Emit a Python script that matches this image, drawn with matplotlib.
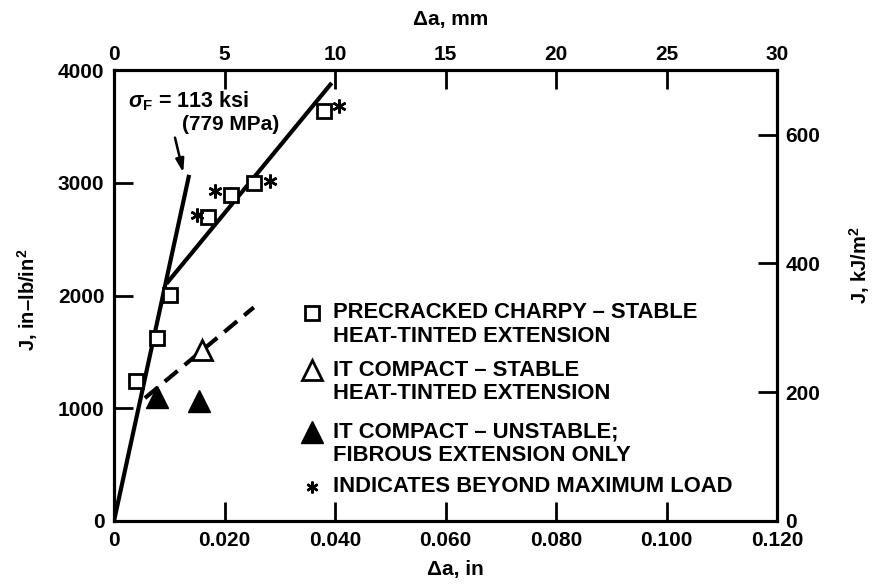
import matplotlib
matplotlib.use("Agg")
import matplotlib.pyplot as plt
from matplotlib.lines import Line2D
from matplotlib.transforms import ScaledTranslation

plt.rcParams.update({
    "font.family": ["Liberation Sans", "DejaVu Sans"],
    "font.weight": "bold",
    "mathtext.fontset": "custom",
    "mathtext.rm": "Liberation Sans:bold",
    "mathtext.it": "Liberation Sans:italic:bold",
    "mathtext.bf": "Liberation Sans:bold",
    "mathtext.sf": "Liberation Sans:bold",
})

# ---- data -------------------------------------------------------------
# Precracked Charpy, stable heat-tinted extension
charpy_da = [0.0039, 0.0077, 0.0101, 0.0170, 0.0212, 0.0253, 0.0380]
charpy_j = [1245, 1620, 2005, 2695, 2890, 2995, 3640]
charpy_beyond_max_load = [False, False, False, True, True, True, True]

# 1T compact, stable heat-tinted extension
ct_stable_da = [0.0159]
ct_stable_j = [1517]

# 1T compact, unstable; fibrous extension only
ct_unstable_da = [0.0077, 0.0154]
ct_unstable_j = [1100, 1060]

# blunting line (sigma_F = 113 ksi) and fitted resistance curves
blunt_da = [0.0, 0.0136]
blunt_j = [0, 3070]
charpy_fit_da = [0.0095, 0.0394]
charpy_fit_j = [2105, 3885]
ct_fit_da = [0.0056, 0.0253]
ct_fit_j = [1090, 1895]

x_ticks_in = [0, 0.02, 0.04, 0.06, 0.08, 0.10, 0.12]
x_tick_labels_in = ["0", "0.020", "0.040", "0.060", "0.080", "0.100", "0.120"]
x_ticks_mm = [0, 5, 10, 15, 20, 25, 30]
y_ticks_j = [0, 1000, 2000, 3000, 4000]
y_ticks_kj = [0, 200, 400, 600]

legend_labels = [
    "PRECRACKED CHARPY – STABLE\nHEAT-TINTED EXTENSION",
    "IT COMPACT – STABLE\nHEAT-TINTED EXTENSION",
    "IT COMPACT – UNSTABLE;\nFIBROUS EXTENSION ONLY",
    "INDICATES BEYOND MAXIMUM LOAD",
]

IN_LB_PER_IN2_TO_KJ_PER_M2 = 0.175127

# ---- figure -----------------------------------------------------------
W, H = 886, 584
fig = plt.figure(figsize=(W / 100, H / 100), dpi=100)
fig.patch.set_facecolor("white")
ax = fig.add_axes([114 / W, (H - 521) / H, 663 / W, 451 / H])


def fpx(x, y):
    """pixel position (from top-left) -> figure fraction"""
    return x / W, 1 - y / H


spine_w = 2.2
tick_kw = dict(direction="in", length=14, width=2, labelsize=15, colors="black")

ax.set_xlim(0, 0.12)
ax.set_ylim(0, 4000)
ax.set_xticks(x_ticks_in)
ax.set_xticklabels(x_tick_labels_in)
ax.set_yticks(y_ticks_j)
ax.set_yticklabels([str(v) for v in y_ticks_j])
ax.tick_params(axis="both", pad=7, **tick_kw)
for s in ax.spines.values():
    s.set_linewidth(spine_w)

axt = ax.twiny()
axt.set_xlim(0, 30)
axt.set_xticks(x_ticks_mm)
axt.tick_params(axis="x", pad=4, **tick_kw)

axr = ax.twinx()
axr.set_ylim(0, 4000 * IN_LB_PER_IN2_TO_KJ_PER_M2)
axr.set_yticks(y_ticks_kj)
axr.tick_params(axis="y", pad=6, **tick_kw)
for a in (axt, axr):
    for s in a.spines.values():
        s.set_linewidth(spine_w)

# lines
ax.plot(blunt_da, blunt_j, color="black", lw=3.0, solid_capstyle="butt", zorder=3)
ax.plot(charpy_fit_da, charpy_fit_j, color="black", lw=3.0, solid_capstyle="butt", zorder=3)
ax.plot(ct_fit_da, ct_fit_j, color="black", lw=3.0, dashes=(4, 2.2), zorder=3)

# markers
sq_kw = dict(marker="s", ms=9.5, mfc="white", mec="black", mew=2.0, ls="none", zorder=4)
ax.plot(charpy_da, charpy_j, **sq_kw)
tri_open_kw = dict(marker="^", ms=15, mfc="white", mec="black", mew=2.0, ls="none", zorder=4)
ax.plot(ct_stable_da, ct_stable_j, **tri_open_kw)
tri_full_kw = dict(marker="^", ms=16, mfc="black", mec="black", mew=1.0, ls="none", zorder=4)
ax.plot(ct_unstable_da, ct_unstable_j, **tri_full_kw)

# asterisks beside points beyond maximum load
star_kw = dict(marker=(6, 2, 0), ms=10, mew=1.8, color="black", ls="none", zorder=5)
star_offsets_px = [(-11, 2), (-16, 4), (16, 2), (15, 5)]
flagged = [(x, j) for x, j, f in zip(charpy_da, charpy_j, charpy_beyond_max_load) if f]
for (x, j), (dx, dy) in zip(flagged, star_offsets_px):
    tr = ax.transData + ScaledTranslation(dx / fig.dpi, dy / fig.dpi, fig.dpi_scale_trans)
    ax.plot([x], [j], transform=tr, clip_on=False, **star_kw)

# flow-stress annotation with arrow to the blunting line
ax.text(0.0025, 3725, r"$\sigma_{\mathrm{F}}$ = 113 ksi", fontsize=15.5,
        fontweight="bold", ha="left", va="center")
ax.text(0.0123, 3515, "(779 MPa)", fontsize=15, fontweight="bold",
        ha="left", va="center")
ax.annotate("", xy=(0.01254, 3090), xytext=(0.01104, 3400),
            arrowprops=dict(arrowstyle="-|>,head_length=0.8,head_width=0.25",
                            color="black", lw=1.8, shrinkA=0, shrinkB=0))

# key
key_x = 312
key_rows = [313, 370, 432, 487]
key_text_x = 333
line_gap = 23.5
key_markers = [sq_kw, tri_open_kw, tri_full_kw, dict(star_kw, ms=8.5)]
for y, mk, lab in zip(key_rows, key_markers, legend_labels):
    kw = dict(mk)
    kw.pop("ls", None)
    kw.pop("zorder", None)
    fx, fy = fpx(key_x, y)
    fig.add_artist(Line2D([fx], [fy], transform=fig.transFigure, ls="none", **kw))
    for k, line in enumerate(lab.split("\n")):
        tx, ty = fpx(key_text_x, y + k * line_gap)
        fig.text(tx, ty, line, fontsize=15.8, fontweight="bold", ha="left", va="center")

# axis titles
fig.text(*fpx(451, 20), "Δa, mm", fontsize=15, fontweight="bold",
         ha="center", va="center")
fig.text(*fpx(455, 570), "Δa, in", fontsize=15, fontweight="bold",
         ha="center", va="center")
fig.text(*fpx(28, 300), r"J, in–lb/in$^{2}$", fontsize=14.5, fontweight="bold",
         rotation=90, ha="center", va="center")
fig.text(*fpx(860, 265), r"J, kJ/m$^{2}$", fontsize=14.5, fontweight="bold",
         rotation=90, ha="center", va="center")

fig.savefig("out.png", dpi=100, facecolor="white")
